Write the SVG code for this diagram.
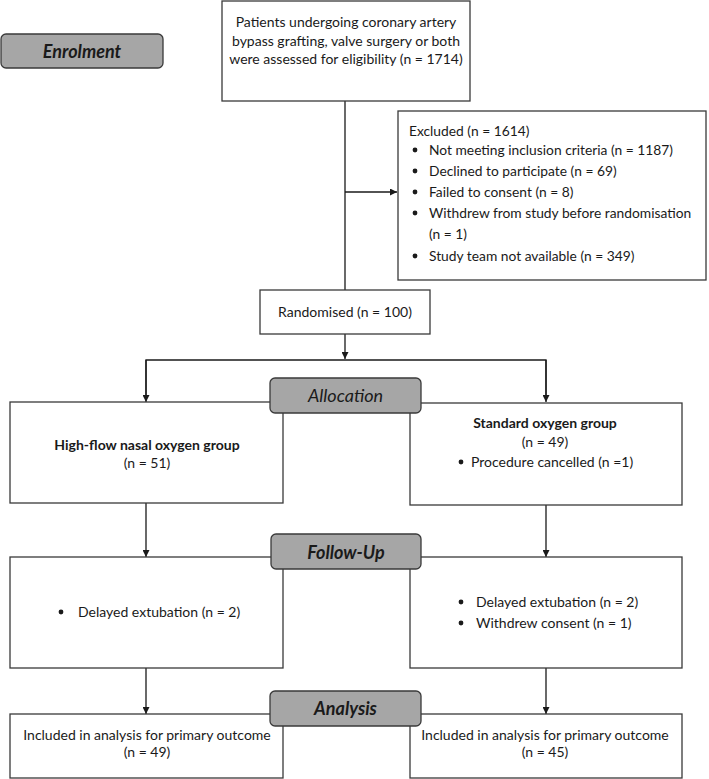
<svg xmlns="http://www.w3.org/2000/svg" width="709" height="779" viewBox="0 0 709 779">
<defs>
<marker id="ah" viewBox="0 0 10 10" refX="10" refY="5" markerWidth="7" markerHeight="7" markerUnits="userSpaceOnUse" orient="auto">
<path d="M0,0 L10,5 L0,10 z" fill="#1a1a1a"/>
</marker>
<style>
.box{fill:#fff;stroke:#3a3a3a;stroke-width:1.3}
.lab{fill:#a6a6a6;stroke:#3a3a3a;stroke-width:1.3}
.t{font-family:Lato,"Liberation Sans",sans-serif;font-size:14px;fill:#1a1a1a}
.s{font-size:13.8px}
.c{text-anchor:middle}
.b{font-weight:bold}
.h{font-family:Lato,"Liberation Sans",sans-serif;font-size:18px;font-style:italic;fill:#1a1a1a;text-anchor:middle}
.ln{stroke:#1a1a1a;stroke-width:1.3;fill:none}
.dot{fill:#1a1a1a}
</style>
</defs>
<g id="connectors">
<line class="ln" x1="345" y1="101" x2="345" y2="290"/>
<line class="ln" x1="345" y1="192" x2="397" y2="192" marker-end="url(#ah)"/>
<line class="ln" x1="345" y1="334" x2="345" y2="359" marker-end="url(#ah)"/>
<polyline class="ln" points="146,395 146,360 546,360 546,395"/>
<line class="ln" x1="146" y1="360" x2="146" y2="402" marker-end="url(#ah)"/>
<line class="ln" x1="546" y1="360" x2="546" y2="402" marker-end="url(#ah)"/>
<line class="ln" x1="146" y1="503" x2="146" y2="557" marker-end="url(#ah)"/>
<line class="ln" x1="546" y1="505" x2="546" y2="557" marker-end="url(#ah)"/>
<line class="ln" x1="146" y1="668" x2="146" y2="714" marker-end="url(#ah)"/>
<line class="ln" x1="546" y1="668" x2="546" y2="714" marker-end="url(#ah)"/>
</g>
<g id="enrolment">
<rect class="lab" x="1" y="34" width="162" height="34" rx="5"/>
<text class="h b" x="82" y="57.5">Enrolment</text>
</g>
<g id="assessed">
<rect class="box" x="222" y="1" width="248" height="100"/>
<text class="t c" x="346" y="27">Patients undergoing coronary artery</text>
<text class="t c" x="346" y="45.5">bypass grafting, valve surgery or both</text>
<text class="t c" x="346" y="64">were assessed for eligibility (n = 1714)</text>
</g>
<g id="excluded">
<rect class="box" x="398" y="111" width="308" height="169"/>
<text class="t s" x="409" y="136">Excluded (n = 1614)</text>
<circle class="dot" cx="415" cy="150" r="2.4"/>
<text class="t s" x="429" y="155">Not meeting inclusion criteria (n = 1187)</text>
<circle class="dot" cx="415" cy="171" r="2.4"/>
<text class="t s" x="429" y="176">Declined to participate (n = 69)</text>
<circle class="dot" cx="415" cy="192" r="2.4"/>
<text class="t s" x="429" y="197">Failed to consent (n = 8)</text>
<circle class="dot" cx="415" cy="213" r="2.4"/>
<text class="t s" x="429" y="218">Withdrew from study before randomisation</text>
<text class="t s" x="429" y="239">(n = 1)</text>
<circle class="dot" cx="415" cy="256" r="2.4"/>
<text class="t s" x="429" y="261">Study team not available (n = 349)</text>
</g>
<g id="randomised">
<rect class="box" x="260" y="290" width="170" height="44"/>
<text class="t c" x="345" y="317">Randomised (n = 100)</text>
</g>
<g id="hfno">
<rect class="box" x="10" y="402" width="273" height="101"/>
<text class="t c b" x="147" y="450">High-flow nasal oxygen group</text>
<text class="t c" x="147" y="468">(n = 51)</text>
</g>
<g id="standard">
<rect class="box" x="410" y="403" width="272" height="102"/>
<text class="t c b" x="545" y="428">Standard oxygen group</text>
<text class="t c" x="545" y="447">(n = 49)</text>
<circle class="dot" cx="461" cy="462" r="2.4"/>
<text class="t" x="471" y="467">Procedure cancelled (n =1)</text>
</g>
<g id="allocation">
<rect class="lab" x="270" y="378" width="151" height="35" rx="5"/>
<text class="h" x="345.5" y="402">Allocation</text>
</g>
<g id="followup-left">
<rect class="box" x="10" y="557" width="273" height="111"/>
<circle class="dot" cx="61" cy="612" r="2.4"/>
<text class="t" x="78" y="617">Delayed extubation (n = 2)</text>
</g>
<g id="followup-right">
<rect class="box" x="410" y="557" width="272" height="111"/>
<circle class="dot" cx="461" cy="602" r="2.4"/>
<text class="t" x="476" y="607">Delayed extubation (n = 2)</text>
<circle class="dot" cx="461" cy="623" r="2.4"/>
<text class="t" x="476" y="628">Withdrew consent (n = 1)</text>
</g>
<g id="followup">
<rect class="lab" x="271" y="534" width="150" height="35" rx="5"/>
<text class="h b" x="346" y="559">Follow-Up</text>
</g>
<g id="analysis-left">
<rect class="box" x="10" y="714" width="273" height="64"/>
<text class="t c" x="147" y="740">Included in analysis for primary outcome</text>
<text class="t c" x="147" y="757">(n = 49)</text>
</g>
<g id="analysis-right">
<rect class="box" x="410" y="714" width="272" height="64"/>
<text class="t c" x="545" y="740">Included in analysis for primary outcome</text>
<text class="t c" x="545" y="757">(n = 45)</text>
</g>
<g id="analysis">
<rect class="lab" x="270" y="691" width="151" height="35" rx="5"/>
<text class="h b" x="345.5" y="715">Analysis</text>
</g>
</svg>
